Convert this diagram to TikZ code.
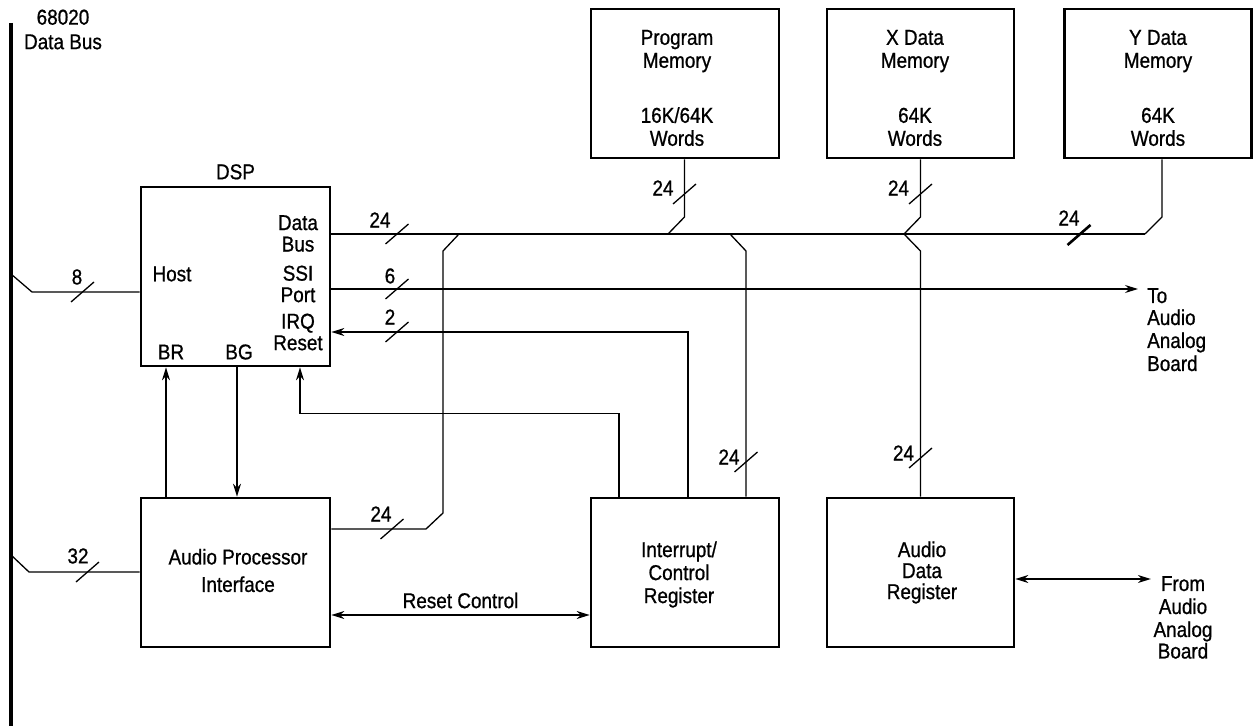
\documentclass[tikz,border=0pt]{standalone}
\usepackage{fontspec}
\setmainfont{Liberation Sans}[FakeStretch=0.88, FakeBold=0.8]
\usetikzlibrary{arrows.meta,positioning}

\begin{document}
\begin{tikzpicture}[
        x=1pt, y=-1pt,
        >={Stealth[length=13pt,width=8pt]},
        every node/.style={font=\fontsize{21.5}{23}\selectfont, inner sep=0pt, align=center},
        block/.style={draw, line width=2.7pt, minimum width=188pt, minimum height=149pt},
        wire/.style={draw, line width=1.3pt},
        bus/.style={draw, line width=4.5pt},
        tick/.style={line width=1.3pt},
        boldtick/.style={line width=2.6pt},
        widthmark/.pic={\draw (-11.5pt,-10pt) -- (11.5pt,10pt);}
    ]
        \useasboundingbox (0,0) rectangle (1253,727);

        \node[block, minimum width=189pt, minimum height=179pt] (dsp) at (235.5,276.5) {};
        \node[above=6pt of dsp] (dsptitle) {DSP};
        \node (dsphost) at (172,274) {Host};
        \node (dspbus) at (298,233.5) {Data\\[-1.5pt]Bus};
        \node (dspssi) at (298,284) {SSI\\[-1.5pt]Port};
        \node (dspirq) at (298,332) {IRQ\\[-1.5pt]Reset};
        \node (dspbr) at (171,352) {BR};
        \node (dspbg) at (239,352) {BG};

        \node[block] (prog) at (685,83.5) {};
        \node[block, minimum width=187pt] (xmem) at (920.5,83.5) {};
        \node[block, minimum width=187pt] (ymem) at (1158,83.5) {};
        \node (progtext) at (677,88) {Program\\Memory\\[32pt]16K/64K\\Words};
        \node (xmemtext) at (915,88) {X Data\\Memory\\[32pt]64K\\Words};
        \node (ymemtext) at (1158,88) {Y Data\\Memory\\[32pt]64K\\Words};

        \node[block, minimum width=189pt] (api) at (235.5,572.5) {};
        \node[block] (icr) at (685,572.5) {};
        \node[block, minimum width=187pt] (adr) at (920.5,572.5) {};
        \node (apitext) at (238,570.5) {Audio Processor\\[4.5pt]Interface};
        \node (icrtext) at (679,574.5) {Interrupt/\\Control\\Register};
        \node (adrtext) at (922,572.5) {Audio\\[-2pt]Data\\[-2pt]Register};

        \node[anchor=north west, align=left] (toaudio) at (1147,288) {To\\[-1pt]Audio\\Analog\\Board};
        \node[anchor=north] (fromaudio) at (1183,576) {From\\Audio\\Analog\\[-1.5pt]Board};

        \coordinate (bustop) at (11,23);
        \coordinate (busbot) at (11,726);
        \draw[bus] (bustop) -- (busbot);
        \node (buslabel) at (63,29.5) {68020\\[1.5pt]Data Bus};

        \coordinate (hosttap) at (11,274);
        \coordinate (apitap) at (11,555);
        \coordinate (japi) at (459,234);
        \coordinate (jprog) at (668,234);
        \coordinate (jicr) at (730,234);
        \coordinate (jx) at (904,234);
        \coordinate (jy) at (1145,234);

        \draw[wire] (hosttap) -- ++(21,18) coordinate (hostbend) -- (hostbend -| dsp.west);
        \pic[tick] at (82.5,292) {widthmark};
        \node (w8) at (77,277) {8};

        \draw[wire] (apitap) -- ++(18,17) coordinate (apibend) -- (apibend -| api.west);
        \pic[tick] at (87.5,572) {widthmark};
        \node (w32) at (78,556) {32};

        \draw[wire] (dsp.east |- jy) -- (jy);
        \pic[tick] at (397,234) {widthmark};
        \node (w24a) at (380,220) {24};

        \draw[wire] (jprog) -- ++(16.5,-17) coordinate (progbend) -- (progbend |- prog.south);
        \pic[tick] at (684.5,194) {widthmark};
        \node (w24b) at (663,188) {24};

        \draw[wire] (jx) -- ++(16.5,-17) coordinate (xbend) -- (xbend |- xmem.south);
        \pic[tick] at (920.5,194) {widthmark};
        \node (w24c) at (898.5,188) {24};

        \draw[wire] (jy) -- ++(17,-17) coordinate (ybend) -- (ybend |- ymem.south);
        \pic[boldtick] at (1079,235) {widthmark};
        \node (w24d) at (1069,218) {24};

        \draw[wire] (jicr) -- ++(16,17) coordinate (icrbend) -- (icrbend |- icr.north);
        \pic[tick] at (746,462) {widthmark};
        \node (w24e) at (729,457) {24};

        \draw[wire] (jx) -- ++(16.5,17) coordinate (adrbend) -- (adrbend |- adr.north);
        \pic[tick] at (920.5,458) {widthmark};
        \node (w24f) at (903.5,453) {24};

        \draw[wire] (japi) -- ++(-16,17) -- ++(0,262) -- ++(-17,16) coordinate (apiend) -- (apiend -| api.east);
        \pic[tick] at (392,529) {widthmark};
        \node (w24g) at (381,514) {24};

        \draw[wire,->,shorten >=9pt] (dsp.east |- 0,289) -- (toaudio.west |- 0,289);
        \pic[tick] at (397,289) {widthmark};
        \node (w6) at (390,276) {6};

        \draw[wire,->] ([xshift=3pt]icr.north) |- (dsp.east |- dspirq);
        \pic[tick] at (397,332) {widthmark};
        \node (w2) at (390,317) {2};

        \draw[wire,->] ([xshift=-66pt]icr.north) -- ++(0,-83) -| ([xshift=64.5pt]dsp.south);
        \draw[wire,->] ([xshift=-69.5pt]api.north) -- ([xshift=-69.5pt]dsp.south);
        \draw[wire,->] ([xshift=1.5pt]dsp.south) -- ([xshift=1.5pt]api.north);

        \draw[wire,<->] (api.east |- 0,615) -- node[above=6pt] (resetlbl) {Reset Control} (icr.west |- 0,615);
        \draw[wire,<->,shorten >=2.5pt] (adr.east |- 0,579) -- (fromaudio.west |- 0,579);
    \end{tikzpicture}
\end{document}
